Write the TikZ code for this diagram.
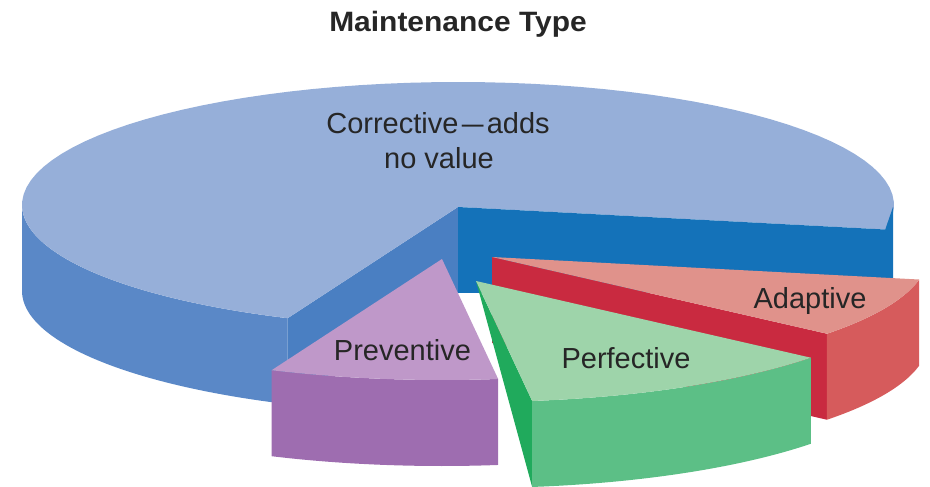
\documentclass[tikz,border=0pt]{standalone}
\usepackage{fontspec}
\setmainfont{Liberation Sans}
\definecolor{bluetop}{HTML}{96AFD9}
\definecolor{bluerim}{HTML}{5A88C7}
\definecolor{bluecut}{HTML}{4A7FC2}
\definecolor{bluedark}{HTML}{1472B9}
\definecolor{redtop}{HTML}{E0928B}
\definecolor{redcut}{HTML}{C92A40}
\definecolor{redrim}{HTML}{D65B5C}
\definecolor{purtop}{HTML}{BF98C9}
\definecolor{purrim}{HTML}{9E6DB0}
\definecolor{gretop}{HTML}{9ED4AA}
\definecolor{grecut}{HTML}{20AA5C}
\definecolor{grerim}{HTML}{5CBF86}
\definecolor{txt}{HTML}{262626}
\newcommand\pietop[3]{\fill[#1] (458,207) -- plot[domain=#2:#3,samples=80] ({458+436*cos(\x)},{205-123*sin(\x)}) -- cycle;}
\newcommand\pierim[3]{\fill[#1] plot[domain=#2:#3,samples=50] ({458+436*cos(\x)},{205-123*sin(\x)}) -- plot[domain=#3:#2,samples=50] ({458+436*cos(\x)},{291-123*sin(\x)}) -- cycle;}
\tikzset{lbl/.style={inner sep=0pt,anchor=base,text=txt,font=\fontsize{29}{35}\selectfont}}
\begin{document}
\begin{tikzpicture}[x=1pt,y=-1pt]
\useasboundingbox (0,0) rectangle (930,487);
% main corrective slice
\pierim{bluerim}{180}{247}
\fill[bluecut] (458,207) -- ({458+436*cos(247)},{205-123*sin(247)}) -- ++(0,86) -- (458,293) -- cycle;
\pietop{bluetop}{-11.5}{247}
\fill[bluedark] (458,207) -- ({458+436*cos(-11.5)},{205-123*sin(-11.5)}) -- (893,207) -- (893,292) -- (458,293) -- cycle;
% adaptive
\begin{scope}[shift={(34,50)}]
\fill[redcut] (458,207) -- ({458+436*cos(320.2)},{205-123*sin(320.2)}) -- ++(0,86) -- (458,293) -- cycle;
\pierim{redrim}{320.2}{348.5}
\pietop{redtop}{320.2}{348.5}
\end{scope}
% preventive
\begin{scope}[shift={(-16,52)}]
\pierim{purrim}{247}{277.4}
\pietop{purtop}{247}{277.4}
\end{scope}
% perfective
\begin{scope}[shift={(18,74)}]
\fill[grecut] (458,207) -- ({458+436*cos(277.4)},{205-123*sin(277.4)}) -- ++(0,86) -- cycle;
\pierim{grerim}{277.4}{320.2}
\pietop{gretop}{277.4}{320.2}
\end{scope}
% labels
\node[inner sep=0pt,anchor=base,text=txt,font=\fontsize{28}{34}\selectfont\bfseries,xscale=1.07] (title) at (458,31.7) {Maintenance Type};
\node[lbl] (corr1) at (438,134) {Corrective\hspace{3.5pt}\scalebox{1.35}[1]{–}\hspace{3pt}adds};
\node[lbl] (corr2) at (439,168) {no value};
\node[lbl] (prev) at (402.5,360) {Preventive};
\node[lbl] (perf) at (626,368) {Perfective};
\node[lbl] (adap) at (810,308) {Adaptive};
\end{tikzpicture}
\end{document}
